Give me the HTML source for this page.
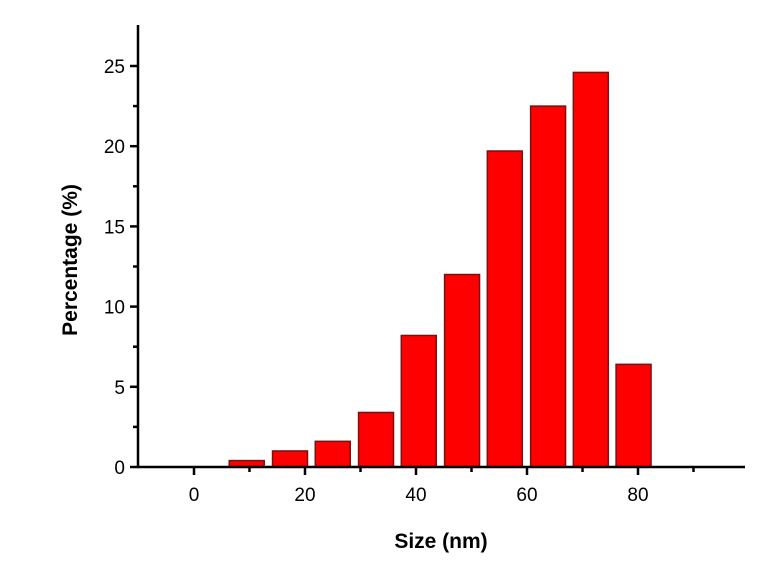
<!DOCTYPE html>
<html><head><meta charset="utf-8"><style>
body{margin:0;background:#fff;}
svg{display:block;font-family:"Liberation Sans",Arial,sans-serif;}
</style></head><body>
<svg id="chart" width="776" height="582" viewBox="0 0 776 582"></svg>
<script>
const centers=[9.5,17.3,25.0,32.8,40.5,48.3,56.0,63.8,71.5,79.2];
const values=[0.4,1.0,1.6,3.4,8.2,12.0,19.7,22.5,24.6,6.4];
const xTicks=[0,20,40,60,80];
const yTicks=[0,5,10,15,20,25];
const NS="http://www.w3.org/2000/svg";
const svg=document.getElementById('chart');
const X0=138,X1=745,Y0=467,YT=25;
function xs(v){return 194+v*5.55;}
function ys(v){return 467-v*16.04;}
function mk(t,a,p){const e=document.createElementNS(NS,t);for(const k in a)e.setAttribute(k,a[k]);(p||svg).appendChild(e);return e;}
const bw=6.3*5.55;
centers.forEach((c,i)=>{
  const r=mk('rect',{x:xs(c)-bw/2,y:ys(values[i]),width:bw,height:Y0-ys(values[i]),fill:'#ff0000',stroke:'#7a1010','stroke-width':1.5});
  
  
});
const ax=mk('g',{stroke:'#000','stroke-width':2.5,fill:'none'});


mk('line',{x1:X0,y1:YT,x2:X0,y2:Y0+1},ax);
mk('line',{x1:X0-1,y1:Y0,x2:X1,y2:Y0},ax);
xTicks.forEach(t=>{
  mk('line',{x1:xs(t),y1:Y0,x2:xs(t),y2:Y0+8},ax);
  mk('line',{x1:xs(t+10),y1:Y0,x2:xs(t+10),y2:Y0+5},ax);
  const l=mk('text',{x:xs(t),y:Y0+34,'text-anchor':'middle','font-size':19,fill:'#000'});
  l.textContent=t;
  
  
});
yTicks.forEach(t=>{
  mk('line',{x1:X0-8,y1:ys(t),x2:X0,y2:ys(t)},ax);
  if(t<25)mk('line',{x1:X0-5,y1:ys(t+2.5),x2:X0,y2:ys(t+2.5)},ax);
  const l=mk('text',{x:X0-13,y:ys(t)+7,'text-anchor':'end','font-size':19,fill:'#000'});
  l.textContent=t;
  
  
});
const xt=mk('text',{x:441,y:548,'text-anchor':'middle','font-size':21,'font-weight':'bold',fill:'#000'});
xt.textContent='Size (nm)';


const yt=mk('text',{x:0,y:0,'text-anchor':'middle','font-size':21,'font-weight':'bold',fill:'#000',transform:'translate(77,260) rotate(-90)'});
yt.textContent='Percentage (%)';


</script>
</body></html>
